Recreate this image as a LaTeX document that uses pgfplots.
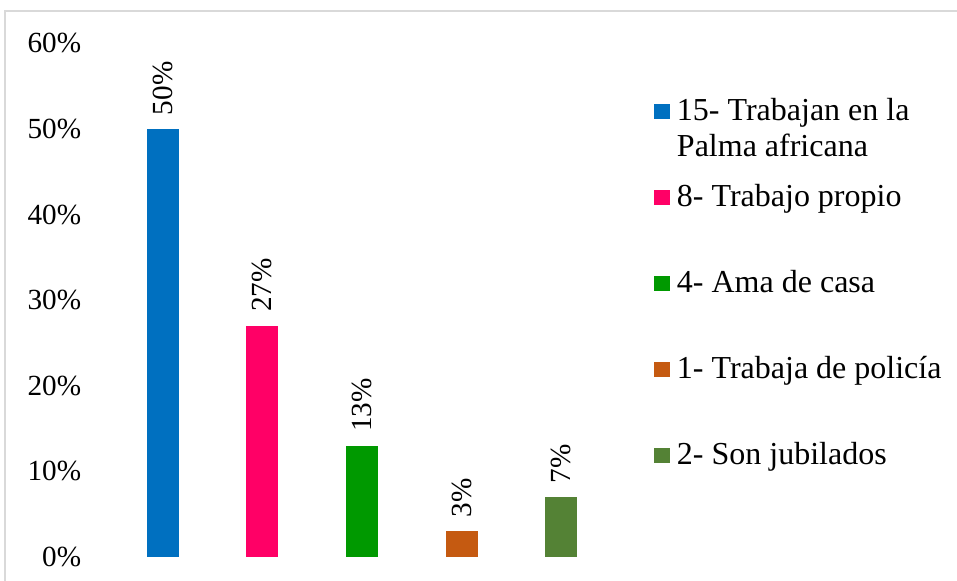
\documentclass[border=0pt]{standalone}
\usepackage{fontspec}
\setmainfont{Liberation Serif}
\usepackage{pgfplots}
\pgfplotsset{compat=1.18}
\definecolor{cBlue}{HTML}{0070C0}
\definecolor{cPink}{HTML}{FF0066}
\definecolor{cGreen}{HTML}{009900}
\definecolor{cOrange}{HTML}{C55A11}
\definecolor{cOlive}{HTML}{548235}
\definecolor{frameGray}{HTML}{D9D9D9}
\begin{document}
\begin{tikzpicture}
\useasboundingbox (0,0) rectangle (478.5pt,290pt);
\draw[color=frameGray, line width=0.75pt] (2.5pt,-2pt) -- (2.5pt,284.5pt) -- (482pt,284.5pt);
\begin{axis}[
  at={(56.5pt,11.5pt)}, anchor=south west,
  scale only axis, width=249pt, height=256.8pt,
  xmin=-0.5, xmax=4.5, ymin=0, ymax=60,
  xtick=\empty, ytick={0,10,...,60},
  yticklabel={\pgfmathprintnumber{\tick}\%},
  /pgf/number format/assume math mode=true,
  yticklabel style={anchor=east, inner sep=0pt, xshift=-15.75pt, font=\fontsize{14.6}{17}\selectfont},
  axis line style={draw=none}, major tick length=0pt,
  ybar, bar width=16pt,
  nodes near coords={\pgfmathprintnumber{\pgfplotspointmeta}\%},
  every node near coord/.append style={rotate=90, anchor=west, inner xsep=6.8pt, inner ysep=0pt, font=\fontsize{14.6}{17}\selectfont, text=black},
  legend style={at={(1.0863,0.888)}, anchor=north west, draw=none, fill=none, inner sep=0pt, outer sep=0pt, row sep=0pt, column sep=3.5pt, font=\fontsize{16}{18}\selectfont, nodes={inner sep=0pt, text height=10pt, text depth=33pt}},
  legend cell align=left,
  legend image code/.code={\fill[#1] (0pt,12.7pt) rectangle (8pt,20.2pt);},
]
\addplot[fill=cBlue, draw=none, bar shift=0pt] coordinates {(0,50)};
\addlegendentry{\parbox[t]{6cm}{15- Trabajan en la\\Palma africana}}
\addplot[fill=cPink, draw=none, bar shift=0pt] coordinates {(1,27)};
\addlegendentry{8- Trabajo propio}
\addplot[fill=cGreen, draw=none, bar shift=0pt] coordinates {(2,13)};
\addlegendentry{4- Ama de casa}
\addplot[fill=cOrange, draw=none, bar shift=0pt] coordinates {(3,3)};
\addlegendentry{1- Trabaja de policía}
\addplot[fill=cOlive, draw=none, bar shift=0pt] coordinates {(4,7)};
\addlegendentry{2- Son jubilados}
\end{axis}
\end{tikzpicture}
\end{document}
